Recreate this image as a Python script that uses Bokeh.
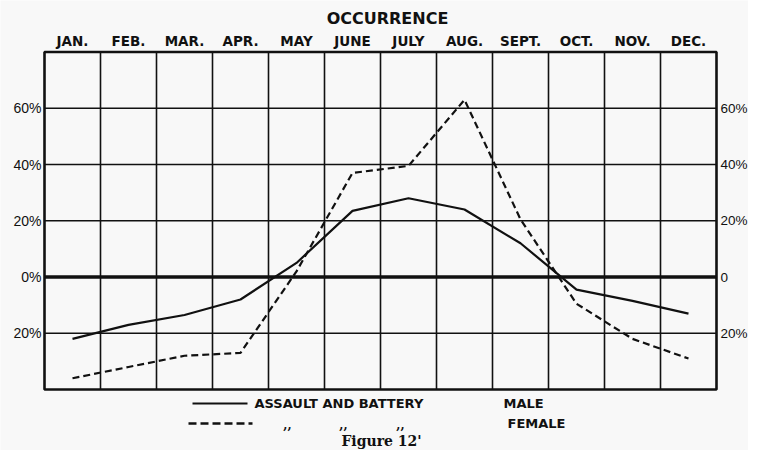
from bokeh.plotting import figure
from bokeh.models import Range1d
from bokeh.core.properties import value
from bokeh.embed import file_html
from bokeh.resources import INLINE

# ---- data ----
months = ["JAN.", "FEB.", "MAR.", "APR.", "MAY", "JUNE", "JULY", "AUG.", "SEPT.", "OCT.", "NOV.", "DEC."]
male = [-22, -17, -13.5, -8, 5, 23.5, 28, 24, 12, -4.5, -8.5, -13]
female = [-36, -32, -28, -27, 2, 37, 39.5, 63, 20.5, -9.5, -22, -29]
grid_values = [-20, 20, 40, 60]
left_tick_values = [60, 40, 20, 0, -20]
left_tick_labels = ["60%", "40%", "20%", "0%", "20%"]
right_tick_labels = ["60%", "40%", "20%", "0", "20%"]
y_min, y_max = -40, 80
title_text = "OCCURRENCE"
legend_text = "ASSAULT AND BATTERY"
legend_male = "MALE"
legend_female = "FEMALE"
ditto = ",,"
caption = "Figure 12'"

# ---- geometry helpers (canvas pixels -> data) ----
X0, XU = 44.0, 56.0      # canvas x of column 0, px per month
Y0, YU = 276.5, 2.8125   # canvas y of 0 %, px per percent

def dx(px):
    return (px - X0) / XU

def dy(py):
    return (Y0 - py) / YU

W, H = 748, 450
p = figure(width=W, height=H, output_backend="svg", toolbar_location=None,
           x_axis_location=None, y_axis_location=None,
           min_border=0, min_border_left=0, min_border_right=0,
           min_border_top=0, min_border_bottom=0)
p.x_range = Range1d(dx(0), dx(W))
p.y_range = Range1d(dy(H), dy(0))
p.grid.visible = False
p.outline_line_color = None
p.background_fill_color = "#f8f8f8"
p.border_fill_color = "#f8f8f8"

ink = "#111111"
n = len(months)
xs = [i + 0.5 for i in range(n)]

# grid: vertical month lines
cols = list(range(1, n))
p.segment(x0=cols, y0=[y_min] * len(cols), x1=cols, y1=[y_max] * len(cols),
          line_color=ink, line_width=1.6)
# horizontal lines
p.segment(x0=[0] * len(grid_values), y0=grid_values, x1=[n] * len(grid_values), y1=grid_values,
          line_color=ink, line_width=1.6)
# zero line
p.segment(x0=[0], y0=[0], x1=[n], y1=[0], line_color=ink, line_width=3.5)
# frame
p.quad(left=[0], right=[n], bottom=[y_min], top=[y_max], fill_color=None,
       line_color=ink, line_width=2.6)

# series
p.line(xs, male, line_color=ink, line_width=2.2)
p.line(xs, female, line_color=ink, line_width=2.2, line_dash="7 4")

sans = value("DejaVu Sans")
lsans = value("Liberation Sans")
serif = value("DejaVu Serif")

# month labels
p.text(x=xs, y=[dy(40)] * n, text=months, text_font=sans, text_font_style="bold",
       text_font_size="13.5px", text_align="center", text_baseline="middle", text_color=ink)
# title
p.text(x=[dx(387)], y=[dy(18)], text=[title_text], text_font=sans, text_font_style="bold",
       text_font_size="16px", text_align="center", text_baseline="middle", text_color=ink)
# left labels
p.text(x=[dx(41)] * len(left_tick_values), y=left_tick_values, text=left_tick_labels,
       text_font=lsans, text_font_size="14px", text_align="right", text_baseline="middle",
       text_color=ink)
# right labels
p.text(x=[dx(720)] * len(left_tick_values), y=left_tick_values, text=right_tick_labels,
       text_font=lsans, text_font_size="13.5px", text_align="left", text_baseline="middle",
       text_color=ink)

# legend
r1, r2 = 403, 423
p.segment(x0=[dx(192)], y0=[dy(r1)], x1=[dx(247)], y1=[dy(r1)], line_color=ink, line_width=2.2)
p.segment(x0=[dx(188)], y0=[dy(r2)], x1=[dx(252)], y1=[dy(r2)], line_color=ink, line_width=2.6,
          line_dash="8 4")
p.text(x=[dx(254), dx(503)], y=[dy(r1)] * 2, text=[legend_text, legend_male], text_font=sans,
       text_font_style="bold", text_font_size="13px", text_align="left", text_baseline="middle",
       text_color=ink)
p.text(x=[dx(507)], y=[dy(r2)], text=[legend_female], text_font=sans,
       text_font_style="bold", text_font_size="13px", text_align="left", text_baseline="middle",
       text_color=ink)
p.text(x=[dx(287), dx(343), dx(400)], y=[dy(r2 + 5)] * 3, text=[ditto] * 3, text_font=serif,
       text_font_style="bold", text_font_size="12px", text_align="center", text_baseline="bottom",
       text_color=ink)
p.text(x=[dx(381)], y=[dy(440)], text=[caption], text_font=serif, text_font_style="bold",
       text_font_size="14px", text_align="center", text_baseline="middle", text_color=ink)

open("out.html", "w").write(file_html(p, INLINE))
